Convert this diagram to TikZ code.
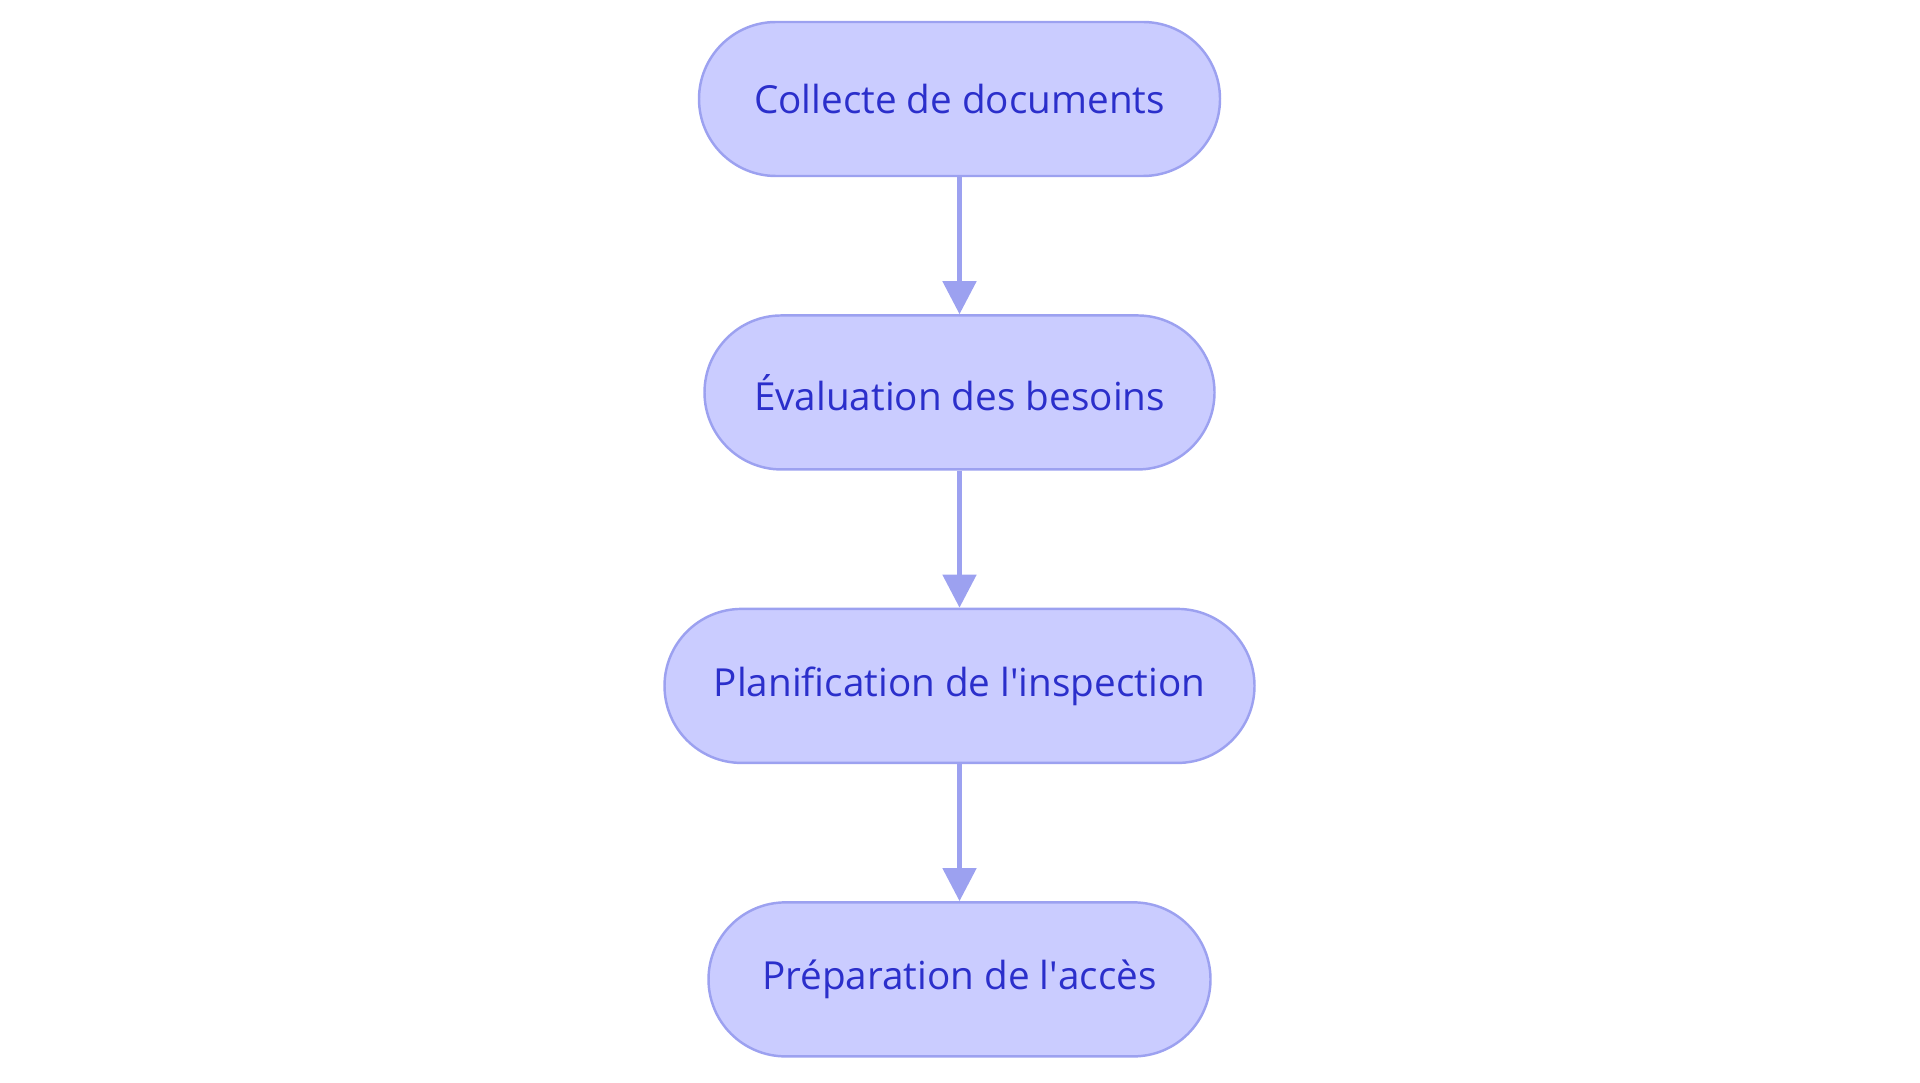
\documentclass[tikz,border=0pt]{standalone}
\usepackage{fontspec}
\setmainfont{Open Sans}
\usetikzlibrary{arrows.meta,positioning}
\definecolor{stepfill}{HTML}{CACCFF}
\definecolor{stepline}{HTML}{9CA1F0}
\definecolor{steptext}{HTML}{2B2FCB}

\begin{document}
\begin{tikzpicture}[
    stepbox/.style={rectangle, rounded corners=0.77cm, minimum height=1.54cm,
                    draw=stepline, fill=stepfill, line width=0.7pt,
                    text=steptext, font=\fontsize{11}{13}\selectfont,
                    inner xsep=0pt},
    arr/.style={-{Triangle[length=0.33cm, width=0.33cm]}, stepline,
                line width=1.4pt},
    node distance=1.37cm
  ]

  % ---- Canvas ----
  \useasboundingbox (0,0) rectangle (19.2,-10.83);

  % ---- Steps ----
  \node[stepbox, minimum width=5.21cm] (collect) at (9.595,-0.99)
    {Collecte de documents};
  \node[stepbox, minimum width=5.10cm, below=of collect] (assess)
    {Évaluation des besoins};
  \node[stepbox, minimum width=5.90cm, below=of assess] (plan)
    {Planification de l\textquotesingle inspection};
  \node[stepbox, minimum width=5.02cm, below=of plan] (access)
    {Préparation de l\textquotesingle accès};

  % ---- Connectors ----
  \draw[arr] (collect) -- (assess);
  \draw[arr] (assess) -- (plan);
  \draw[arr] (plan) -- (access);

\end{tikzpicture}
\end{document}
